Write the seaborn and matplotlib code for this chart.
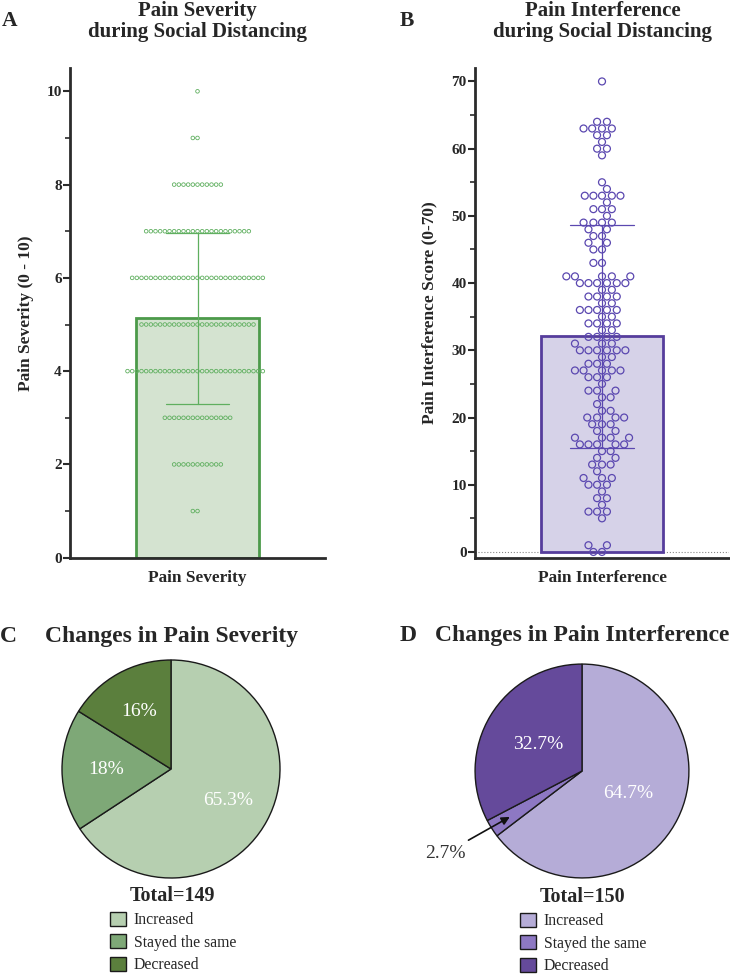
import numpy as np
import pandas as pd
import matplotlib.pyplot as plt
import seaborn as sns

sns.set_style("ticks")
plt.rcParams["font.family"] = ["Liberation Serif", "DejaVu Serif"]

# ==========================
# DATA
# ==========================

severity_scores = [10, 9, 8, 7, 6, 5, 4, 3, 2, 1]
severity_counts = [1, 2, 11, 23, 29, 25, 30, 15, 11, 2]

interference_scores = [70, 64, 63, 62, 61, 60, 59, 55, 54, 53, 52, 51, 50, 49, 48, 47, 46, 45, 43,
                       41, 40, 39, 38, 37, 36, 35, 34, 33, 32, 31, 30,
                       29, 28, 27, 26, 25, 24, 23, 22, 21, 20, 19, 18, 17, 16, 15, 14, 13, 12,
                       11, 10, 9, 8, 7, 6, 5, 1, 0]
interference_counts = [1, 2, 4, 2, 1, 2, 1, 1, 1, 5, 1, 3, 1, 4, 2, 2, 2, 2, 2,
                       5, 6, 2, 4, 2, 5, 2, 4, 2, 4, 3, 6,
                       2, 3, 5, 3, 1, 3, 2, 1, 2, 4, 3, 2, 4, 5, 2, 2, 3, 1,
                       3, 3, 1, 2, 1, 3, 1, 2, 2]

change_labels = ["Increased", "Stayed the same", "Decreased"]
severity_change_pct = [65.3, 18, 16]
interference_change_pct = [64.7, 2.7, 32.7]
severity_total = 149
interference_total = 150

sev_df = pd.DataFrame({
    "group": "Pain Severity",
    "score": np.repeat(severity_scores, severity_counts),
})
int_df = pd.DataFrame({
    "group": "Pain Interference",
    "score": np.repeat(interference_scores, interference_counts),
})

# colours
green_fill = "#d4e3d0"
green_edge = "#4c9a4a"
green_dot = "#5faf5f"
purple_fill = "#d6d2e8"
purple_edge = "#563d9c"
purple_dot = "#5b48b0"
sev_pie_colors = ["#b6cfb0", "#7ea877", "#5b7f3d"]
int_pie_colors = ["#b5acd7", "#8d78c3", "#654a9b"]

W, H = 730, 975
fig = plt.figure(figsize=(7.3, 9.75), dpi=100)


def px_rect(left, top, right, bottom):
    return [left / W, 1 - bottom / H, (right - left) / W, (bottom - top) / H]


def style_axis(ax):
    sns.despine(ax=ax)
    for side in ["left", "bottom"]:
        ax.spines[side].set_linewidth(2)
        ax.spines[side].set_color("#2b2b2b")
    ax.tick_params(axis="y", which="major", length=5, width=1.5, labelsize=11, color="#2b2b2b", pad=1)
    ax.tick_params(axis="y", which="minor", length=3.5, width=1.2, color="#2b2b2b")
    ax.tick_params(axis="x", length=0, labelsize=12.4, pad=9)
    for lbl in ax.get_yticklabels() + ax.get_xticklabels():
        lbl.set_fontweight("bold")
    ax.set_xlabel("")


# ==========================
# A - PAIN SEVERITY
# ==========================

ax_a = fig.add_axes(px_rect(70, 68, 325, 557.7))

sns.barplot(data=sev_df, x="group", y="score", width=0.5, errorbar="sd",
            capsize=0.26, color=green_fill, saturation=1,
            edgecolor=green_edge, linewidth=2,
            err_kws={"color": green_dot, "linewidth": 0.9}, ax=ax_a)
sns.swarmplot(data=sev_df, x="group", y="score", size=2.6,
              color=green_dot, facecolor="none", edgecolor=green_dot,
              linewidth=0.6, ax=ax_a)

ax_a.set_xlim(-0.52, 0.52)
ax_a.set_ylim(0, 10.5)
ax_a.set_yticks([0, 2, 4, 6, 8, 10])
ax_a.set_yticks([1, 3, 5, 7, 9], minor=True)
style_axis(ax_a)
ax_a.set_ylabel("Pain Severity (0 - 10)", fontsize=12.5, fontweight="bold")
ax_a.yaxis.set_label_coords(-0.141, 0.5)

fig.text(197.5 / W, 1 - 1 / H, "Pain Severity\nduring Social Distancing",
         ha="center", va="top", fontsize=15, fontweight="bold", linespacing=1.1)
fig.text(2 / W, 1 - 11 / H, "A", ha="left", va="top", fontsize=15.5, fontweight="bold")

# ==========================
# B - PAIN INTERFERENCE
# ==========================

ax_b = fig.add_axes(px_rect(475, 68, 729, 558))

ax_b.axhline(0, color="#888888", linewidth=0.8, linestyle=":", zorder=0)
sns.barplot(data=int_df, x="group", y="score", width=0.5, errorbar="sd",
            capsize=0.26, color=purple_fill, saturation=1,
            edgecolor=purple_edge, linewidth=2,
            err_kws={"color": purple_dot, "linewidth": 0.9}, ax=ax_b)
sns.swarmplot(data=int_df, x="group", y="score", size=5,
              color=purple_dot, facecolor="none", edgecolor=purple_dot,
              linewidth=0.9, ax=ax_b)

ax_b.set_xlim(-0.52, 0.52)
ax_b.set_ylim(-0.9, 72)
ax_b.set_yticks(np.arange(0, 71, 10))
ax_b.set_yticks(np.arange(5, 70, 10), minor=True)
style_axis(ax_b)
ax_b.set_ylabel("Pain Interference Score (0-70)", fontsize=12.5, fontweight="bold")
ax_b.yaxis.set_label_coords(-0.149, 0.5)

fig.text(602.5 / W, 1 - 1 / H, "Pain Interference\nduring Social Distancing",
         ha="center", va="top", fontsize=15, fontweight="bold", linespacing=1.1)
fig.text(400 / W, 1 - 11 / H, "B", ha="left", va="top", fontsize=15.5, fontweight="bold")

# ==========================
# C - CHANGES IN PAIN SEVERITY
# ==========================

ax_c = fig.add_axes(px_rect(171 - 141.7, 769 - 141.7, 171 + 141.7, 769 + 141.7))
wedges_c, texts_c = ax_c.pie(
    severity_change_pct, colors=sev_pie_colors, startangle=90, counterclock=False,
    labels=[f"{v:g}%" for v in severity_change_pct], labeldistance=0.6,
    wedgeprops={"edgecolor": "#1a1a1a", "linewidth": 1},
    textprops={"color": "white", "fontsize": 14, "ha": "center", "va": "center"})
ax_c.set_xlim(-1.3, 1.3)
ax_c.set_ylim(-1.3, 1.3)

fig.text(172 / W, 1 - 642 / H, "Changes in Pain Severity", ha="center", va="baseline",
         fontsize=17, fontweight="bold")
fig.text(0 / W, 1 - 642 / H, "C", ha="left", va="baseline", fontsize=17, fontweight="bold")
fig.text(172 / W, 1 - 896 / H, f"Total={severity_total}", ha="center", va="center",
         fontsize=14.5, fontweight="bold")
ax_c.legend(wedges_c, change_labels, loc="upper left",
            bbox_to_anchor=(110 / W, 1 - 912 / H), bbox_transform=fig.transFigure,
            frameon=False, fontsize=11.3, borderpad=0, borderaxespad=0,
            handlelength=1.0, handleheight=1.0, handletextpad=0.5, labelspacing=0.38)

# ==========================
# D - CHANGES IN PAIN INTERFERENCE
# ==========================

ax_d = fig.add_axes(px_rect(582 - 139, 771 - 139, 582 + 139, 771 + 139))
wedges_d, texts_d = ax_d.pie(
    interference_change_pct, colors=int_pie_colors, startangle=90, counterclock=False,
    labels=[f"{v:g}%" for v in interference_change_pct], labeldistance=0.48,
    wedgeprops={"edgecolor": "#1a1a1a", "linewidth": 1},
    textprops={"color": "white", "fontsize": 14, "ha": "center", "va": "center"})
ax_d.set_xlim(-1.3, 1.3)
ax_d.set_ylim(-1.3, 1.3)

# small slice label goes outside with an arrow
small = wedges_d[1]
texts_d[1].set_visible(False)
mid = np.deg2rad((small.theta1 + small.theta2) / 2)
ax_d.annotate(texts_d[1].get_text(), xy=(0.8 * np.cos(mid), 0.8 * np.sin(mid)),
              xytext=(-1.28, -0.77), ha="center", va="center", fontsize=14, color="#333333",
              arrowprops={"arrowstyle": "-|>", "color": "#111111", "lw": 1.2,
                          "mutation_scale": 12, "shrinkA": 2, "shrinkB": 0})

fig.text(582 / W, 1 - 641 / H, "Changes in Pain Interference", ha="center", va="baseline",
         fontsize=17, fontweight="bold")
fig.text(400 / W, 1 - 641 / H, "D", ha="left", va="baseline", fontsize=17, fontweight="bold")
fig.text(582 / W, 1 - 897 / H, f"Total={interference_total}", ha="center", va="center",
         fontsize=14.5, fontweight="bold")
ax_d.legend(wedges_d, change_labels, loc="upper left",
            bbox_to_anchor=(520 / W, 1 - 913 / H), bbox_transform=fig.transFigure,
            frameon=False, fontsize=11.3, borderpad=0, borderaxespad=0,
            handlelength=1.0, handleheight=1.0, handletextpad=0.5, labelspacing=0.38)

fig.savefig("out.png", dpi=100)
